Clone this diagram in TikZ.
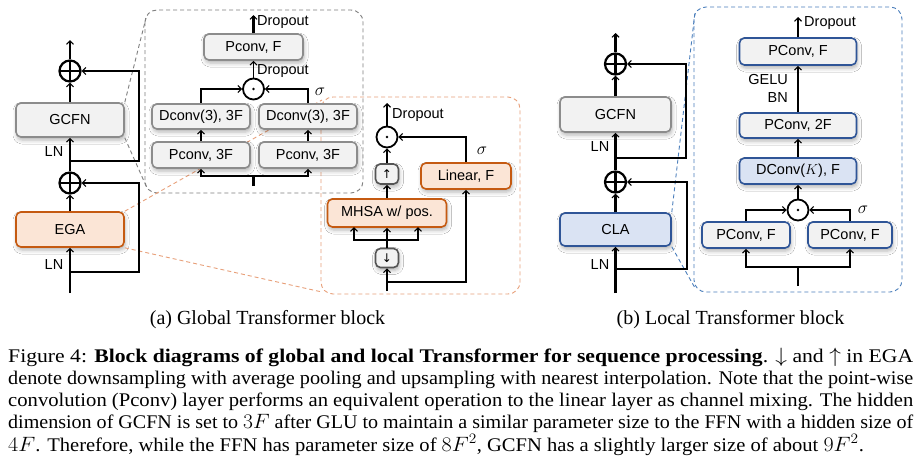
\documentclass[tikz,border=0pt]{standalone}
\usepackage{fontspec}
\usepackage{graphicx}
\setmainfont{Liberation Sans}
\newfontfamily\capfont{Liberation Serif}
\newfontfamily\symfont{DejaVu Sans}
\usetikzlibrary{arrows.meta,shadows.blur,calc}
\definecolor{gfill}{HTML}{F2F2F2}
\definecolor{gborder}{HTML}{8C8C8C}
\definecolor{sborder}{HTML}{555555}
\definecolor{ofill}{HTML}{FBE5D6}
\definecolor{oborder}{HTML}{C55A11}
\definecolor{bfill}{HTML}{DAE3F3}
\definecolor{bborder}{HTML}{2F5597}
\definecolor{gdash}{HTML}{7F7F7F}
\definecolor{odash}{HTML}{E8A07A}
\definecolor{bdash}{HTML}{4A7EBB}
\newcommand\capl[1]{\resizebox{905pt}{\height}{#1}}
\tikzset{
 lbl/.style={font=\fontsize{14.5}{16}\selectfont, inner sep=0pt},
 sig/.style={font=\fontsize{18}{18}\selectfont, inner sep=0pt},
 bx/.style={draw, rounded corners=5pt, line width=1.6pt, font=\fontsize{14.5}{16}\selectfont, inner sep=0pt,
   blur shadow={shadow xshift=1pt, shadow yshift=-3pt, shadow blur radius=4pt, shadow opacity=30}},
 graybox/.style={bx, fill=gfill, draw=gborder},
 orangebox/.style={bx, fill=ofill, draw=oborder},
 bluebox/.style={bx, fill=bfill, draw=bborder},
 gbbox/.style={bx, fill=gfill, draw=bborder},
 smallbox/.style={bx, fill=gfill, draw=sborder, minimum width=23pt, minimum height=20pt, font=\symfont\fontsize{12}{12}\selectfont},
 thk/.style={line width=2.6pt},
 thn/.style={line width=1.2pt},
 opl/.style={circle, draw, line width=2.2pt, minimum size=21pt, inner sep=0pt, fill=white,
   path picture={\draw[black, line width=2.2pt] (path picture bounding box.north) -- (path picture bounding box.south)
     (path picture bounding box.west) -- (path picture bounding box.east);}},
 odt/.style={circle, draw, line width=1.8pt, minimum size=21pt, inner sep=0pt, fill=white,
   path picture={\fill[black] (path picture bounding box.center) circle (1.4pt);}},
 dgr/.style={draw=gdash, dash pattern=on 4pt off 3pt, line width=0.9pt},
 dor/.style={draw=odash, dash pattern=on 4pt off 3pt, line width=0.9pt},
 dbl/.style={draw=bdash, dash pattern=on 4pt off 3pt, line width=0.9pt},
 capline/.style={font=\capfont\fontsize{19.3}{22}\selectfont, inner sep=0pt, anchor=base west},
 subcap/.style={font=\capfont\fontsize{20}{22}\selectfont, inner sep=0pt, anchor=base},
}
\begin{document}
\begin{tikzpicture}[x=1pt,y=-1pt, >={Straight Barb[length=3.5pt,width=7pt,line width=1.1pt]}]
\useasboundingbox[fill=white] (0,0) rectangle (922,469);

% ---------- dashed detail boxes ----------
\draw[dor, rounded corners=12pt] (321,97) rectangle (520,294);
\draw[dgr, rounded corners=12pt] (145,10) rectangle (363,193);
\draw[dbl, rounded corners=12pt] (694,7) rectangle (902,292);

% ---------- left block nodes ----------
\node[graybox, minimum width=108pt, minimum height=34pt] (gcfnA) at (70,120) {GCFN};
\node[orangebox, minimum width=108pt, minimum height=35pt] (ega) at (70,229.5) {EGA};
\node[opl] (opA1) at (70,71) {};
\node[opl] (opA2) at (70,183) {};
\node[lbl] (lnA1) at (54,152) {LN};
\node[lbl] (lnA2) at (54,265) {LN};
\coordinate (inA) at (70,293);
\coordinate (outA) at (70,40);
\coordinate (rA2) at (70,272);
\coordinate (rA1) at (70,161);

% zoom lines
\coordinate (gTL) at (146,18);
\coordinate (gBL) at (147,188);
\coordinate (oTL) at (322,100);
\coordinate (oBL) at (322,292);
\draw[dgr] (gcfnA.north east) -- (gTL);
\draw[dgr] (gcfnA.south east) -- (gBL);
\draw[dor] (ega.north east) -- (oTL);
\draw[dor] (ega.south east) -- (oBL);

\draw[thk,->] (inA) -- (ega.south);
\draw[thk,->] (ega.north) -- (opA2.south);
\draw[thk,->] (opA2.north) -- (gcfnA.south);
\draw[thk,->] (gcfnA.north) -- (opA1.south);
\draw[thn,->] (opA1.north) -- (outA);
\draw[thk,->] (rA2) -- ++(69,0) |- (opA2.east);
\draw[thk,->] (rA1) -- ++(69,0) |- (opA1.east);

% ---------- GCFN detail ----------
\node[graybox, minimum width=99pt, minimum height=26pt] (pconvF) at (253.5,47) {Pconv, F};
\node[odt] (odG) at (253.5,89) {};
\node[graybox, minimum width=98pt, minimum height=25pt] (dconvL) at (201,116.5) {Dconv(3), 3F};
\node[graybox, minimum width=98pt, minimum height=25pt] (dconvR) at (308,116.5) {Dconv(3), 3F};
\node[graybox, minimum width=98pt, minimum height=26pt] (pconvL) at (201,155) {Pconv, 3F};
\node[graybox, minimum width=98pt, minimum height=26pt] (pconvR) at (308,155) {Pconv, 3F};
\node[lbl, anchor=west] (dropG1) at (257,22) {Dropout};
\node[lbl, anchor=west] (dropG2) at (257,71) {Dropout};
\node[sig] (sigG) at (320,92) {$\sigma$};
\coordinate (gOut) at (253.5,15);
\coordinate (gIn) at (253.5,186);
\coordinate (gSplit) at (253.5,176);

\draw[thk,->] (pconvF.north) -- (gOut);
\draw[thn,->] (odG.north) -- (pconvF.south);
\draw[thk,->] (dconvL.north) |- (odG.west);
\draw[thk,->] (dconvR.north) |- (odG.east);
\draw[thn,->] (pconvL.north) -- (dconvL.south);
\draw[thn,->] (pconvR.north) -- (dconvR.south);
\draw[thk] (gIn) -- (gSplit);
\draw[thk,->] (gSplit) -| (pconvL.south);
\draw[thk,->] (gSplit) -| (pconvR.south);

% ---------- EGA detail ----------
\node[odt] (odE) at (387,137) {};
\node[smallbox] (upb) at (387,174) {↑};
\node[orangebox, minimum width=119pt, minimum height=28pt] (mhsa) at (387,213) {MHSA w/ pos.};
\node[orangebox, minimum width=90pt, minimum height=26pt] (linear) at (466,176) {Linear, F};
\node[smallbox, minimum height=19pt] (dnb) at (387,258) {↓};
\node[lbl, anchor=west] (dropE) at (392,115) {Dropout};
\node[sig] (sigE) at (482,151) {$\sigma$};
\coordinate (eOut) at (387,103);
\coordinate (eIn) at (387,291);
\coordinate (eBr) at (387,282);
\coordinate (eSplit) at (387,240);
\coordinate (mL) at (354,227);
\coordinate (mR) at (418,227);

\draw[thk,->] (odE.north) -- (eOut);
\draw[thk,->] (upb.north) -- (odE.south);
\draw[thk,->] (mhsa.north) -- (upb.south);
\draw[thk,->] (linear.north) |- (odE.east);
\draw[thk] (dnb.north) -- (eSplit);
\draw[thk,->] (eSplit) -- (mhsa.south);
\draw[thk,->] (eSplit) -| (mL);
\draw[thk,->] (eSplit) -| (mR);
\draw[thk,->] (eIn) -- (dnb.south);
\draw[thk,->] (eBr) -| (linear.south);

% ---------- right block ----------
\node[graybox, minimum width=111pt, minimum height=35pt] (gcfnB) at (615.5,114.5) {GCFN};
\node[bluebox, minimum width=111pt, minimum height=33pt] (cla) at (615.5,229.5) {CLA};
\node[opl] (opB1) at (615.5,64) {};
\node[opl] (opB2) at (615.5,182) {};
\node[lbl] (lnB1) at (600,147) {LN};
\node[lbl] (lnB2) at (600,265) {LN};
\coordinate (inB) at (615.5,293);
\coordinate (outB) at (615.5,33);
\coordinate (rB2) at (615.5,269);
\coordinate (rB1) at (615.5,158);
\coordinate (bTL) at (695,12);
\coordinate (bBL) at (695,288);
\draw[dbl] (cla.north east) -- (bTL);
\draw[dbl] (cla.south east) -- (bBL);

\draw[thk,->] (inB) -- (cla.south);
\draw[thk,->] (cla.north) -- (opB2.south);
\draw[thk,->] (opB2.north) -- (gcfnB.south);
\draw[thk,->] (gcfnB.north) -- (opB1.south);
\draw[thk,->] (opB1.north) -- (outB);
\draw[thk,->] (rB2) -- ++(71.5,0) |- (opB2.east);
\draw[thk,->] (rB1) -- ++(70.5,0) |- (opB1.east);

% ---------- CLA detail ----------
\node[gbbox, minimum width=117pt, minimum height=27pt] (pcF) at (798,51.5) {PConv, F};
\node[gbbox, minimum width=117pt, minimum height=25pt] (pc2F) at (798,125.5) {PConv, 2F};
\node[bluebox, minimum width=117pt, minimum height=26pt] (dcK) at (798,171) {DConv($K$), F};
\node[odt] (odB) at (798,210) {};
\node[gbbox, minimum width=88pt, minimum height=26pt] (pcL) at (746,235) {PConv, F};
\node[gbbox, minimum width=84pt, minimum height=26pt] (pcR) at (850,235) {PConv, F};
\node[lbl, anchor=west] (dropB) at (804,23) {Dropout};
\node[lbl, anchor=east] (gelu) at (788,80) {GELU};
\node[lbl, anchor=east] (bn) at (788,98) {BN};
\node[sig] (sigB) at (863,210) {$\sigma$};
\coordinate (bOut) at (798,17);
\coordinate (bIn) at (798,286);
\coordinate (bSplit) at (798,267);

\draw[thk,->] (pcF.north) -- (bOut);
\draw[thk,->] (pc2F.north) -- (pcF.south);
\draw[thk,->] (dcK.north) -- (pc2F.south);
\draw[thk,->] (odB.north) -- (dcK.south);
\draw[thk,->] (pcL.north) |- (odB.west);
\draw[thk,->] (pcR.north) |- (odB.east);
\draw[thk] (bIn) -- (bSplit);
\draw[thk,->] (bSplit) -| (pcL.south);
\draw[thk,->] (bSplit) -| (pcR.south);

% ---------- captions ----------
\node[subcap] (capA) at (267.5,324) {(a) Global Transformer block};
\node[subcap] (capB) at (730.5,324) {(b) Local Transformer block};
\node[capline] (l1) at (8,362) {\capl{Figure 4: \textbf{Block diagrams of global and local Transformer for sequence processing}. $\downarrow$ and $\uparrow$ in EGA}};
\node[capline] (l2) at (8,384.3) {\capl{denote downsampling with average pooling and upsampling with nearest interpolation. Note that the point-wise}};
\node[capline] (l3) at (8,406.6) {\capl{convolution (Pconv) layer performs an equivalent operation to the linear layer as channel mixing. The hidden}};
\node[capline] (l4) at (8,428.9) {\capl{dimension of GCFN is set to $3F$ after GLU to maintain a similar parameter size to the FFN with a hidden size of}};
\node[capline] (l5) at (8,451.2) {\scalebox{1.065}[1]{$4F$. Therefore, while the FFN has parameter size of $8F^2$, GCFN has a slightly larger size of about $9F^2$.}};
\end{tikzpicture}
\end{document}
